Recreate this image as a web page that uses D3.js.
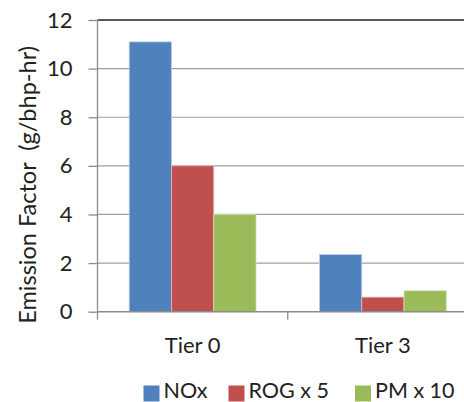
<!DOCTYPE html>
<html><head><meta charset="utf-8">
<script src="https://cdn.jsdelivr.net/npm/d3@7"></script>
<style>body{margin:0;background:#fff}svg{display:block}text{font-family:Lato,"Open Sans",sans-serif;fill:#222}</style>
</head><body>
<svg id="c" width="464" height="402"></svg>
<script>
const categories = ["Tier 0", "Tier 3"];
const seriesNames = ["NOx", "ROG x 5", "PM x 10"];
const nox = [11.1, 2.35];
const rog5 = [6.0, 0.6];
const pm10 = [4.0, 0.86];
const yTicks = [0, 2, 4, 6, 8, 10, 12];
const colors = ["#4F81BD", "#C0504D", "#9BBB59"];
const strokes = ["#b9cde5", "#e6b9b8", "#d7e4bd"];

const values = [nox, rog5, pm10];
const svg = d3.select("#c");
const L = 97.5, R = 478, T = 20, B = 311.7;
const x = d3.scaleBand().domain(categories).range([L, R]).paddingInner(0).paddingOuter(0);
const y = d3.scaleLinear().domain([0, 12]).range([B, T]);
const bw = x.bandwidth();
const groupW = bw / (3 + 1.5);
const x1 = d3.scaleBand().domain(seriesNames).range([0, groupW * 3]);

// gridlines
svg.append("g").selectAll("line").data(yTicks.filter(d => d > 0)).join("line")
  .attr("x1", L).attr("x2", R).attr("y1", d => y(d)).attr("y2", d => y(d))
  .attr("stroke", d => d === 12 ? "#222" : "#a0a0a0").attr("stroke-width", d => d === 12 ? 1.3 : 1.2);

// bars
const g = svg.append("g");
categories.forEach((c, i) => {
  seriesNames.forEach((s, j) => {
    const v = values[j][i];
    g.append("rect")
      .attr("x", x(c) + groupW * 0.75 + x1(s))
      .attr("y", y(v))
      .attr("width", x1.bandwidth())
      .attr("height", y(0) - y(v))
      .attr("fill", colors[j])
      .attr("stroke", strokes[j]).attr("stroke-width", 0.8);
  });
});

// y axis
const ya = svg.append("g").attr("transform", `translate(${L},0)`)
  .call(d3.axisLeft(y).tickValues(yTicks).tickSize(9).tickPadding(16).tickFormat(d3.format("d")));
ya.select(".domain").attr("stroke", "#8c8c8c").attr("stroke-width", 1.3).attr("d", `M0,${T}V${B}`);
ya.selectAll(".tick line").attr("stroke", "#8c8c8c").attr("stroke-width", 1.3);
ya.selectAll(".tick text").attr("font-size", 22).attr("font-family", "Lato").attr("fill", "#222");

// x axis
const xa = svg.append("g").attr("transform", `translate(0,${B})`);
xa.append("line").attr("x1", L).attr("x2", R).attr("y1", 0).attr("y2", 0).attr("stroke", "#8c8c8c").attr("stroke-width", 1.5);
const bounds = [L, x(categories[1]), R];
xa.selectAll("line.t").data(bounds).join("line").attr("class", "t")
  .attr("x1", d => d).attr("x2", d => d).attr("y1", 0).attr("y2", 8).attr("stroke", "#8c8c8c").attr("stroke-width", 1.3);
xa.selectAll("text").data(categories).join("text")
  .attr("x", d => x(d) + bw / 2)
  .attr("y", 41).attr("text-anchor", "middle").attr("font-size", 22).text(d => d);

// y title
svg.append("text").attr("transform", `translate(36,${(T + B) / 2 + 19}) rotate(-90)`)
  .attr("text-anchor", "middle").attr("font-size", 23.5).attr("xml:space", "preserve")
  .text("Emission Factor  (g/bhp-hr)");

// legend
const lx = [143.5, 228.5, 355];
const lg = svg.append("g");
seriesNames.forEach((s, j) => {
  lg.append("rect").attr("x", lx[j]).attr("y", 385.5).attr("width", 16).attr("height", 16).attr("fill", colors[j]);
  lg.append("text").attr("x", lx[j] + 20).attr("y", 397.5).attr("font-size", 21.5).text(s);
});
</script>
</body></html>
